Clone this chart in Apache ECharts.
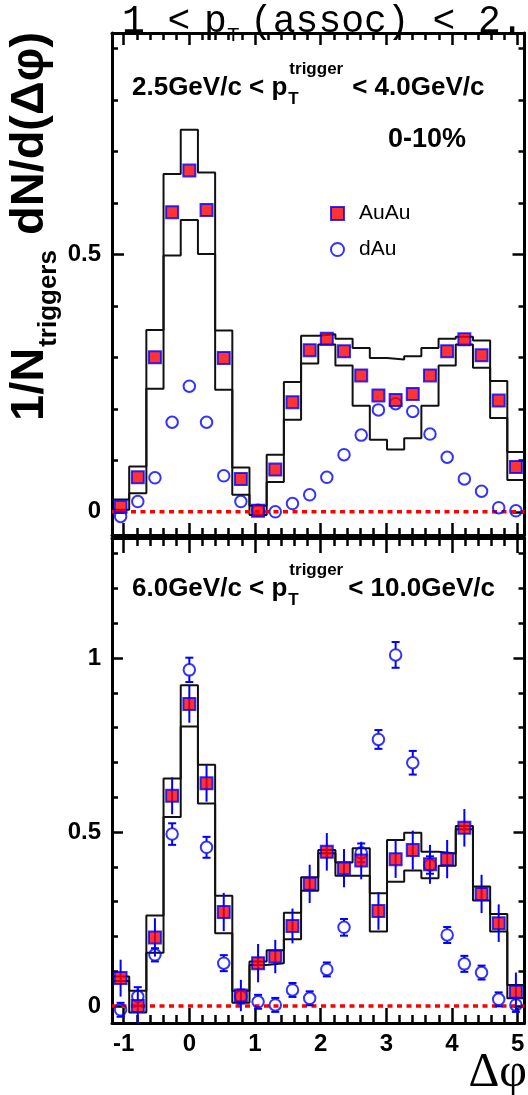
<!DOCTYPE html>
<html>
<head>
<meta charset="utf-8">
<script src="https://cdn.jsdelivr.net/npm/echarts@6/dist/echarts.min.js"></script>
<style>
  html, body { margin: 0; padding: 0; background: #fff; }
  #chart { width: 528px; height: 1095px; }
</style>
</head>
<body>
<div id="chart"></div>
<script>
// Δφ bin centres (rad); bins are π/12 wide
const dphi = [-1.047, -0.785, -0.524, -0.262, 0.000, 0.262, 0.524, 0.785,
               1.047,  1.309,  1.571,  1.833, 2.094, 2.356, 2.618, 2.880,
               3.142,  3.403,  3.665,  3.927, 4.189, 4.451, 4.712, 4.974];
const binHalfWidth = 0.1309;

// 2.5 < pT(trigger) < 4.0 GeV/c
const auauLow   = [0.010, 0.067, 0.300, 0.582, 0.663, 0.586, 0.299, 0.064,
                   0.002, 0.082, 0.213, 0.314, 0.336, 0.312, 0.265, 0.226,
                   0.217, 0.229, 0.265, 0.312, 0.335, 0.304, 0.216, 0.087];
const dauLow    = [-0.009, 0.020, 0.066, 0.174, 0.244, 0.174, 0.070, 0.020,
                   0.003, 0.000, 0.016, 0.033, 0.067, 0.111, 0.149, 0.198,
                   0.210, 0.195, 0.151, 0.106, 0.064, 0.040, 0.008, 0.002];
const sysUpLow  = [0.024, 0.088, 0.353, 0.656, 0.742, 0.659, 0.352, 0.086,
                   0.012, 0.111, 0.252, 0.342, 0.345, 0.336, 0.318, 0.299,
                   0.296, 0.302, 0.318, 0.336, 0.340, 0.333, 0.254, 0.116];
const sysDnLow  = [0.004, 0.036, 0.239, 0.498, 0.567, 0.501, 0.237, 0.033,
                   -0.006, 0.058, 0.179, 0.288, 0.325, 0.284, 0.206, 0.140,
                   0.121, 0.143, 0.206, 0.284, 0.325, 0.280, 0.182, 0.062];

// 6.0 < pT(trigger) < 10.0 GeV/c
const auauHigh    = [0.080, 0.000, 0.197, 0.604, 0.868, 0.640, 0.270, 0.030,
                     0.123, 0.142, 0.230, 0.351, 0.443, 0.396, 0.418, 0.273,
                     0.422, 0.448, 0.407, 0.422, 0.512, 0.322, 0.238, 0.041];
const auauHighErr = [0.053, 0.050, 0.055, 0.053, 0.054, 0.053, 0.055, 0.045,
                     0.055, 0.048, 0.050, 0.055, 0.054, 0.055, 0.054, 0.054,
                     0.054, 0.056, 0.056, 0.055, 0.054, 0.055, 0.054, 0.055];
const dauHigh     = [-0.011, 0.027, 0.147, 0.494, 0.966, 0.456, 0.123, 0.027,
                     0.012, 0.003, 0.046, 0.022, 0.105, 0.226, 0.440, 0.766,
                     1.009, 0.699, 0.405, 0.204, 0.121, 0.096, 0.019, 0.003];
const dauHighErr  = [0.020, 0.027, 0.019, 0.031, 0.035, 0.030, 0.023, 0.020,
                     0.020, 0.020, 0.020, 0.020, 0.020, 0.024, 0.027, 0.027,
                     0.037, 0.034, 0.025, 0.023, 0.023, 0.020, 0.020, 0.020];
const sysUpHigh   = [0.085, 0.044, 0.260, 0.654, 0.922, 0.693, 0.317, 0.044,
                     0.128, 0.160, 0.268, 0.370, 0.448, 0.412, 0.453, 0.324,
                     0.477, 0.498, 0.443, 0.438, 0.517, 0.343, 0.264, 0.060];
const sysDnHigh   = [0.072, -0.019, 0.153, 0.543, 0.803, 0.582, 0.209, 0.009,
                     0.118, 0.123, 0.192, 0.331, 0.439, 0.374, 0.374, 0.214,
                     0.357, 0.389, 0.367, 0.403, 0.508, 0.303, 0.214, 0.022];

// axis ticks and ranges
const xMajorTicks    = [-1, 0, 1, 2, 3, 4, 5];
const yMajorTicksLow  = [0, 0.5];
const yMajorTicksHigh = [0, 0.5, 1];
const yRangeLow  = [-0.045, 0.930];
const yRangeHigh = [-0.049, 1.345];

const xMin = dphi[0] - binHalfWidth;
const xMax = dphi[dphi.length - 1] + binHalfWidth;

function minorTicks(lo, hi, step, majors) {
  const out = [];
  for (let v = Math.ceil(lo / step) * step; v <= hi + 1e-9; v += step) {
    const r = Math.round(v * 1000) / 1000;
    if (r >= lo && r <= hi && !majors.some(m => Math.abs(m - r) < 1e-6)) out.push(r);
  }
  return out;
}

const SANS = '"Liberation Sans", Arial, Helvetica, sans-serif';
const FRAME = { color: '#000', width: 3 };
const TICK = { color: '#000', width: 2.5 };
const tickLabel = { fontFamily: SANS, fontWeight: 'bold', fontSize: 24, color: '#000' };

// major + minor tick axes on both edges of a frame
function frameAxes(dim, gridIndex, min, max, major, minor, majorLen, minorLen, labelled) {
  const sides = dim === 'x' ? ['bottom', 'top'] : ['left', 'right'];
  const axes = [];
  sides.forEach((pos, s) => {
    axes.push({
      type: 'value', gridIndex, min, max, position: pos,
      axisLine: { show: true, onZero: false, lineStyle: FRAME },
      axisTick: { show: true, inside: true, length: majorLen, customValues: major, lineStyle: TICK },
      axisLabel: Object.assign({ show: labelled && s === 0, customValues: major,
                                 margin: dim === 'x' ? 9 : 11 }, tickLabel),
      splitLine: { show: false }
    });
    axes.push({
      type: 'value', gridIndex, min, max, position: pos,
      axisLine: { show: false, onZero: false },
      axisTick: { show: true, inside: true, length: minorLen, customValues: minor, lineStyle: TICK },
      axisLabel: { show: false },
      splitLine: { show: false }
    });
  });
  return axes;
}

const xMinor = minorTicks(xMin, xMax, 0.2, xMajorTicks);
const xAxes = [].concat(
  frameAxes('x', 0, xMin, xMax, xMajorTicks, xMinor, 12, 7, false),
  frameAxes('x', 1, xMin, xMax, xMajorTicks, xMinor, 15, 8, true)
);
const yAxes = [].concat(
  frameAxes('y', 0, yRangeLow[0], yRangeLow[1], yMajorTicksLow,
            minorTicks(yRangeLow[0], yRangeLow[1], 0.1, yMajorTicksLow), 12, 6, true),
  frameAxes('y', 1, yRangeHigh[0], yRangeHigh[1], yMajorTicksHigh,
            minorTicks(yRangeHigh[0], yRangeHigh[1], 0.1, yMajorTicksHigh), 11, 6, true)
);

function stepPoints(vals) {
  const pts = [];
  dphi.forEach((c, i) => { pts.push([c - binHalfWidth, vals[i]]); pts.push([c + binHalfWidth, vals[i]]); });
  return pts;
}
const pairs = vals => dphi.map((x, i) => [x, vals[i]]);

const AUAU_STYLE = { color: '#ff0000', borderColor: '#0000ff', borderWidth: 2 };
const DAU_STYLE = { color: 'rgba(255,255,255,0)', borderColor: '#0000ff', borderWidth: 2 };

function errorBars(idx, vals, errs, capped, name) {
  return {
    type: 'custom', name, xAxisIndex: idx, yAxisIndex: idx, z: 3, silent: true,
    data: dphi.map((x, i) => [x, vals[i], errs[i]]),
    encode: { x: 0, y: 1 },
    renderItem: (params, api) => {
      const x = api.value(0), y = api.value(1), e = api.value(2);
      const c = api.coord([x, y]);
      const hi = api.coord([x, y + e]);
      const lo = api.coord([x, y - e]);
      const st = { stroke: '#0000ff', lineWidth: 2 };
      const kids = [];
      if (capped) {
        const r = 6;
        if (c[1] - r > hi[1]) kids.push({ type: 'line', shape: { x1: c[0], y1: c[1] - r, x2: hi[0], y2: hi[1] }, style: st });
        if (lo[1] > c[1] + r) kids.push({ type: 'line', shape: { x1: c[0], y1: c[1] + r, x2: lo[0], y2: lo[1] }, style: st });
        kids.push({ type: 'line', shape: { x1: hi[0] - 4, y1: hi[1], x2: hi[0] + 4, y2: hi[1] }, style: st });
        kids.push({ type: 'line', shape: { x1: lo[0] - 4, y1: lo[1], x2: lo[0] + 4, y2: lo[1] }, style: st });
      } else {
        kids.push({ type: 'line', shape: { x1: hi[0], y1: hi[1], x2: lo[0], y2: lo[1] }, style: st });
      }
      return { type: 'group', children: kids };
    }
  };
}

function panelSeries(p, auau, dau, up, dn, auauErr, dauErr) {
  const idx = 4 * p;
  const sys = vals => ({
    type: 'line', xAxisIndex: idx, yAxisIndex: idx, data: stepPoints(vals),
    symbol: 'none', silent: true, z: 2,
    lineStyle: { color: '#111', width: 2 }
  });
  const list = [
    sys(up), sys(dn),
    { type: 'line', xAxisIndex: idx, yAxisIndex: idx, data: [[xMin, 0], [xMax, 0]],
      symbol: 'none', silent: true, z: 2,
      lineStyle: { color: '#ff0000', width: 3.5, type: [5, 4.5] } }
  ];
  if (dauErr) list.push(errorBars(idx, dau, dauErr, true, 'dAuErr'));
  if (auauErr) list.push(errorBars(idx, auau, auauErr, false, 'AuAuErr'));
  list.push({ type: 'scatter', name: 'dAu', xAxisIndex: idx, yAxisIndex: idx, data: pairs(dau),
              symbol: 'circle', symbolSize: 11.5, itemStyle: DAU_STYLE, z: 4 });
  list.push({ type: 'scatter', name: 'AuAu', xAxisIndex: idx, yAxisIndex: idx, data: pairs(auau),
              symbol: 'rect', symbolSize: 12, itemStyle: AUAU_STYLE, z: 5 });
  return list;
}

// text helpers
const mctx = document.createElement('canvas').getContext('2d');
function textWidth(str, font) { mctx.font = font; return mctx.measureText(str).width; }
function txt(x, y, text, font, extra) {
  return Object.assign({ type: 'text', x, y, silent: true,
    style: { text, font, fill: '#000', align: 'left', verticalAlign: 'middle' } }, extra || {});
}

function triggerLabel(x0, yMid, lead, tail, gap) {
  const big = `bold 26px ${SANS}`, small = `bold 17px ${SANS}`;
  const w = textWidth(lead, big);
  const wSup = textWidth('trigger', small);
  return [
    txt(x0, yMid, lead, big),
    txt(x0 + w + 1, yMid + 11, 'T', small),
    txt(x0 + w + 2, yMid - 19, 'trigger', small),
    txt(x0 + w + wSup + gap, yMid, tail, big)
  ];
}

const MONO = '"Liberation Mono", "DejaVu Sans Mono", monospace';
const titleBig = `38px ${MONO}`, titleSmall = `21px ${MONO}`;

// rotated y-axis title: 1/N_triggers dN/d(Δφ)
const yTitleBig = `bold 47px ${SANS}`, yTitleSmall = `bold 26px ${SANS}`;
const wOneN = textWidth('1/N', yTitleBig);
const wTrig = textWidth('triggers', yTitleSmall);

const graphics = [
  txt(122, 22, '1 <', titleBig),
  txt(204, 22, 'p', titleBig),
  txt(227, 35, 'T', titleSmall),
  txt(250, 22, '(assoc) < 2.', titleBig),
  ...triggerLabel(132, 88, '2.5GeV/c < p', '< 4.0GeV/c', 11),
  txt(388, 140, '0-10%', `bold 27px ${SANS}`),
  ...triggerLabel(132, 589, '6.0GeV/c < p', '< 10.0GeV/c', 7),
  {
    type: 'group', x: 30, y: 421, rotation: Math.PI / 2, silent: true,
    children: [
      txt(0, 0, '1/N', yTitleBig),
      txt(wOneN + 1, 19, 'triggers', yTitleSmall),
      txt(wOneN + wTrig + 16, 0, 'dN/d(\u0394\u03c6)', yTitleBig)
    ]
  },
  { type: 'text', x: 527, y: 1073, silent: true,
    style: { text: '\u0394\u03c6', font: `48px "Liberation Serif", "DejaVu Serif", serif`,
             fill: '#000', align: 'right', verticalAlign: 'middle' } }
];

const chart = echarts.init(document.getElementById('chart'), null, { renderer: 'canvas' });
chart.setOption({
  animation: false,
  backgroundColor: '#fff',
  grid: [
    { left: 112, top: 33, width: 412.5, height: 502 },
    { left: 112, top: 538, width: 412.5, height: 485 }
  ],
  xAxis: xAxes,
  yAxis: yAxes,
  legend: {
    data: ['AuAu', 'dAu'], orient: 'vertical', left: 325, top: 198,
    itemWidth: 13, itemHeight: 13, itemGap: 15, selectedMode: false,
    textStyle: { fontFamily: SANS, fontSize: 21, color: '#000', padding: [0, 0, 0, 10] }
  },
  series: [].concat(
    panelSeries(0, auauLow, dauLow, sysUpLow, sysDnLow, null, null),
    panelSeries(1, auauHigh, dauHigh, sysUpHigh, sysDnHigh, auauHighErr, dauHighErr)
  ),
  graphic: graphics
});
</script>
</body>
</html>
